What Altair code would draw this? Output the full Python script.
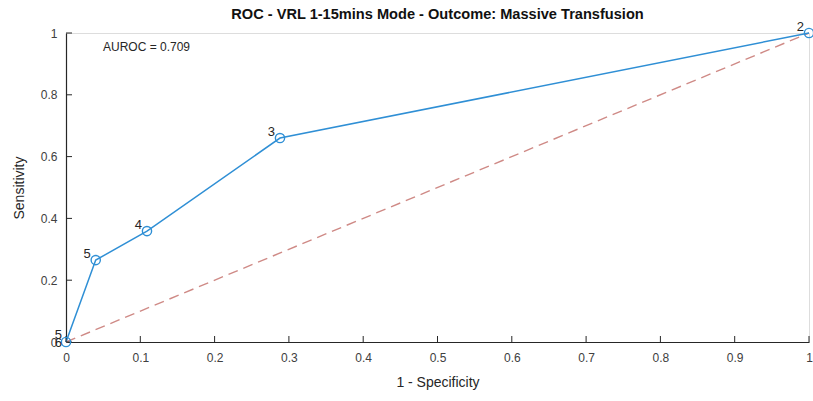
import altair as alt
import pandas as pd

# ROC operating points (1 - specificity, sensitivity) and their threshold labels
fpr = [0.0, 0.040, 0.109, 0.288, 1.0]
tpr = [0.0, 0.265, 0.359, 0.660, 1.0]
point_labels = ["6", "5", "4", "3", "2"]
# a second threshold also sits at the origin
extra_label_fpr = [0.0]
extra_label_tpr = [0.0]
extra_labels = ["5"]

x_ticks = [0, 0.1, 0.2, 0.3, 0.4, 0.5, 0.6, 0.7, 0.8, 0.9, 1]
y_ticks = [0, 0.2, 0.4, 0.6, 0.8, 1]
auroc = 0.709

W, H = 743, 309
FONT = "Liberation Sans"
BLUE = "#2f8fd5"
AXIS = "#262626"

roc = pd.DataFrame({"fpr": fpr, "tpr": tpr, "label": point_labels})
roc["order"] = range(len(roc))
extra = pd.DataFrame({"fpr": extra_label_fpr, "tpr": extra_label_tpr, "label": extra_labels})
diag = pd.DataFrame({"fpr": [0, 1], "tpr": [0, 1]})
xt = pd.DataFrame({"v": x_ticks})
yt = pd.DataFrame({"v": y_ticks})

xs = alt.Scale(domain=[0, 1], nice=False, zero=False)
ys = alt.Scale(domain=[0, 1], nice=False, zero=False)

x_axis = alt.Axis(values=x_ticks, format="~g", tickSize=0, grid=False,
                  domainColor=AXIS, domainWidth=1.2, labelColor="#404040",
                  labelFontSize=12, labelFont=FONT, labelPadding=10,
                  title="1 - Specificity", titleFont=FONT, titleFontSize=14,
                  titleFontWeight="normal", titleColor="#262626", titlePadding=12,
                  labelFlush=False)
y_axis = alt.Axis(values=y_ticks, format="~g", tickSize=0, grid=False,
                  domainColor=AXIS, domainWidth=1.2, labelColor="#404040",
                  labelFontSize=12, labelFont=FONT, labelPadding=9,
                  title="Sensitivity", titleFont=FONT, titleFontSize=14,
                  titleFontWeight="normal", titleColor="#262626", titlePadding=14,
                  labelFlush=False)

chance = alt.Chart(diag).mark_line(color="#cf8a86", strokeDash=[10, 6], strokeWidth=1.4).encode(
    x=alt.X("fpr:Q", scale=xs, axis=x_axis),
    y=alt.Y("tpr:Q", scale=ys, axis=y_axis),
)

curve = alt.Chart(roc).mark_line(color=BLUE, strokeWidth=1.5).encode(
    x=alt.X("fpr:Q", scale=xs), y=alt.Y("tpr:Q", scale=ys), order="order:Q"
)

pts = alt.Chart(roc).mark_point(shape="circle", filled=False, color=BLUE,
                                size=85, strokeWidth=1.4, opacity=1).encode(
    x=alt.X("fpr:Q", scale=xs), y=alt.Y("tpr:Q", scale=ys)
)

# threshold labels away from the origin
lbl = alt.Chart(roc).transform_filter("datum.fpr > 0").mark_text(
    align="right", baseline="bottom", dx=-5, dy=1,
    font=FONT, fontSize=13, color="#262626").encode(
    x=alt.X("fpr:Q", scale=xs), y=alt.Y("tpr:Q", scale=ys), text="label:N"
)

# labels stacked at the origin
lbl0 = alt.Chart(roc).transform_filter("datum.fpr == 0").mark_text(
    align="right", baseline="bottom", dx=-4, dy=8,
    font=FONT, fontSize=13, color="#262626").encode(
    x=alt.X("fpr:Q", scale=xs), y=alt.Y("tpr:Q", scale=ys), text="label:N"
)
lbl2 = alt.Chart(extra).mark_text(align="right", baseline="bottom", dx=-4, dy=0,
                                  font=FONT, fontSize=13, color="#262626").encode(
    x=alt.X("fpr:Q", scale=xs), y=alt.Y("tpr:Q", scale=ys), text="label:N"
)

# inward-pointing ticks along the bottom and left axes
xtick = alt.Chart(xt).mark_rule(color=AXIS, strokeWidth=1).encode(
    x=alt.X("v:Q", scale=xs), y=alt.value(H), y2=alt.value(H - 6)
)
ytick = alt.Chart(yt).mark_rule(color=AXIS, strokeWidth=1).encode(
    y=alt.Y("v:Q", scale=ys), x=alt.value(0), x2=alt.value(6)
)

note = alt.Chart(pd.DataFrame({"t": [f"AUROC = {auroc}"]})).mark_text(
    align="left", baseline="middle", font=FONT, fontSize=12, color="#262626"
).encode(text="t:N", x=alt.value(37), y=alt.value(14))

chart = alt.layer(chance, curve, xtick, ytick, pts, lbl, lbl0, lbl2, note).properties(
    width=W, height=H,
    title=alt.TitleParams("ROC - VRL 1-15mins Mode - Outcome: Massive Transfusion",
                          font=FONT, fontSize=14.6, fontWeight="bold", color="#111111",
                          anchor="middle", offset=-1),
    autosize=alt.AutoSizeParams(type="none"),
    padding={"left": 66, "top": 33, "right": 4, "bottom": 59},
).configure_view(stroke=None).configure(background="white")

chart.save("out.html", embed_options={"renderer": "svg", "actions": False})
